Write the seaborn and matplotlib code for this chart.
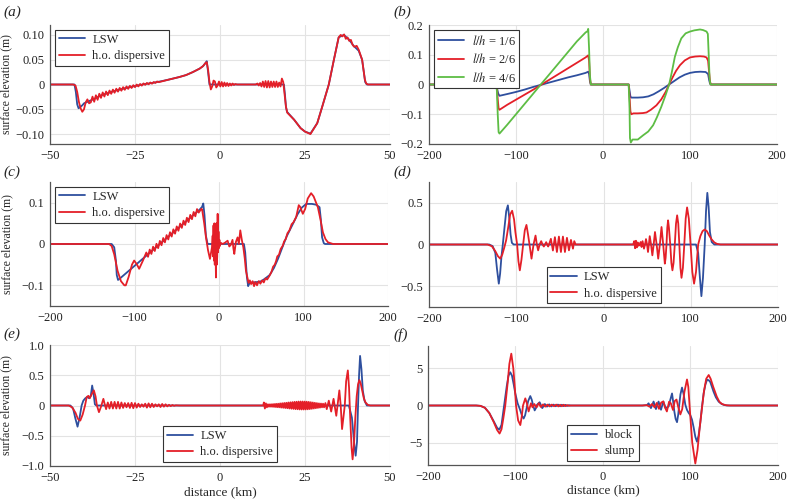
import numpy as np
import pandas as pd
import matplotlib
matplotlib.use('Agg')
import matplotlib.pyplot as plt
import seaborn as sns

# colours
BLUE = '#2e4f9e'
RED = '#e41f28'
GREEN = '#5dbd44'

# ---------------- panel (a) ----------------
a_lsw = [(-50, 0), (-42.8, 0), (-42.4, -0.015), (-42.0, -0.04), (-41.6, -0.048), (-40.5, -0.042),
         (-40, -0.038), (-37, -0.029), (-35, -0.022), (-32, -0.015), (-30, -0.011), (-27, -0.006),
         (-25, -0.003), (-22, 0.001), (-20, 0.003), (-17, 0.007), (-15, 0.010), (-12, 0.015),
         (-10, 0.019), (-8, 0.025), (-6, 0.032), (-5, 0.037), (-4.3, 0.043), (-3.9, 0.047),
         (-3.5, 0.025), (-3.1, 0), (18.8, 0), (19.1, -0.02), (19.4, -0.045), (19.7, -0.055),
         (21.8, -0.071), (23.7, -0.088), (25, -0.095), (26.6, -0.099), (28.6, -0.078),
         (30.1, -0.044), (32, 0), (33.5, 0.05), (34.9, 0.095), (36.4, 0.1), (37.9, 0.091),
         (39.3, 0.078), (40.8, 0.068), (41.8, 0.05), (42.2, 0.03), (42.7, 0.005), (43.2, 0), (50, 0)]

a_hod = [(-50, 0), (-43.2, 0), (-42.5, -0.002), (-42, -0.015), (-41.5, -0.035), (-41, -0.048),
         (-40.5, -0.055), (-40, -0.05), (-39.5, -0.036), (-39, -0.03), (-38.5, -0.038), (-38, -0.036),
         (-37.5, -0.0245), (-37, -0.0348), (-36.5, -0.0217), (-36, -0.0309), (-35.5, -0.0186),
         (-35, -0.027), (-34.5, -0.016), (-34, -0.0243), (-33.5, -0.0141), (-33, -0.0215),
         (-32.5, -0.0122), (-32, -0.0188), (-31.5, -0.0103), (-31, -0.0166), (-30.5, -0.0085),
         (-30, -0.0144), (-29.5, -0.0069), (-29, -0.0125), (-28.5, -0.0054), (-28, -0.0107),
         (-27.5, -0.0039), (-27, -0.0088), (-26.5, -0.0026), (-26, -0.0071), (-25.5, -0.0013),
         (-25, -0.0054), (-24.5, 0.0), (-24, -0.0039), (-23.5, 0.0011), (-23, -0.0023),
         (-22.5, 0.0022), (-22, -0.0008), (-21.5, 0.0032), (-21, 0.0004), (-20.5, 0.004),
         (-20, 0.0016), (-19.5, 0.005), (-19, 0.0031), (-18.5, 0.0061), (-18, 0.0047),
         (-15, 0.010), (-12, 0.015), (-10, 0.019), (-8, 0.025), (-6, 0.032), (-5, 0.037),
         (-4.3, 0.043), (-3.9, 0.045), (-3.5, 0.03), (-3.1, 0.005), (-2.7, -0.01), (-2.3, -0.004),
         (-1.9, 0.008), (-1.5, 0.006), (-1.1, -0.006), (-0.7, -0.002), (-0.3, 0.006), (0.1, -0.004),
         (0.5, 0.005), (0.9, -0.004), (1.3, 0.004), (1.7, -0.003), (2.1, 0.003), (2.5, -0.003),
         (2.9, 0.002), (3.3, -0.002), (3.7, 0.002), (4.1, -0.001), (4.5, 0.001), (5, 0), (10.5, 0),
         (11, 0.002), (11.4, -0.002), (11.8, 0.003), (12.2, -0.004), (12.6, 0.006), (13, -0.005),
         (13.4, 0.007), (13.8, -0.006), (14.2, 0.007), (14.6, -0.006), (15, 0.006), (15.4, -0.005),
         (15.8, 0.006), (16.2, -0.005), (16.6, 0.006), (17, -0.005), (17.4, 0.004), (17.8, -0.004),
         (18.2, 0.012), (18.6, 0.005), (19, -0.02), (19.4, -0.045), (19.8, -0.057), (21.8, -0.071),
         (23.7, -0.088), (25, -0.095), (26.6, -0.1), (28.6, -0.078), (30.1, -0.044), (32, 0),
         (33.5, 0.05), (34.9, 0.095), (35.5, 0.1), (36, 0.097), (36.5, 0.101), (37, 0.092),
         (37.5, 0.095), (38, 0.088), (38.5, 0.09), (39, 0.08), (39.5, 0.076), (40.2, 0.078),
         (40.8, 0.07), (41.3, 0.06), (41.8, 0.05), (42.2, 0.03), (42.6, 0.01), (43, 0.002),
         (43.5, 0), (50, 0)]

# ---------------- panel (b) ----------------
b_16 = [(-200, 0), (-123, 0), (-122, -0.01), (-120.5, -0.03), (-119, -0.038), (-110, -0.032),
        (-100, -0.025), (-90, -0.017), (-80, -0.008), (-70, 0.0), (-60, 0.008), (-50, 0.016),
        (-40, 0.024), (-30, 0.031), (-20, 0.039), (-17, 0.043), (-16, 0.035), (-15, 0.01), (-14, 0),
        (29.5, 0), (30.5, -0.02), (31.5, -0.04), (32.5, -0.044), (40, -0.044), (46, -0.043),
        (52, -0.04), (58, -0.033), (64, -0.023), (70, -0.012), (76, 0.0), (82, 0.012), (88, 0.024),
        (94, 0.033), (100, 0.039), (106, 0.042), (112, 0.043), (118, 0.042), (120.8, 0.035),
        (122, 0.015), (123, 0.003), (124, 0), (200, 0)]
b_26 = [(-200, 0), (-123, 0), (-122, -0.01), (-121, -0.05), (-120, -0.08), (-119, -0.085),
        (-110, -0.068), (-100, -0.051), (-90, -0.034), (-80, -0.017), (-70.6, 0.0), (-60, 0.019),
        (-50, 0.037), (-40, 0.055), (-30, 0.073), (-20, 0.091), (-17, 0.098), (-16, 0.08),
        (-15, 0.02), (-14, 0), (29.5, 0), (30.5, -0.04), (31.5, -0.09), (32.5, -0.1), (35, -0.097),
        (40, -0.097), (46, -0.096), (50, -0.094), (55, -0.085), (61.4, -0.07), (67, -0.05),
        (72, -0.025), (76, 0.0), (80, 0.024), (84, 0.046), (88.5, 0.065), (94, 0.081), (100, 0.091),
        (106, 0.094), (111.5, 0.095), (116, 0.094), (119, 0.091), (120.8, 0.08), (122, 0.04),
        (123, 0.01), (124, 0), (200, 0)]
b_46 = [(-200, 0), (-123, 0), (-122, -0.02), (-121, -0.1), (-120, -0.16), (-119, -0.165),
        (-110, -0.135), (-100, -0.1), (-90, -0.065), (-80, -0.03), (-71.5, 0.0), (-60, 0.04),
        (-50, 0.075), (-40, 0.11), (-30, 0.145), (-20, 0.175), (-17.5, 0.18), (-17, 0.187),
        (-16, 0.12), (-15, 0.03), (-14, 0), (29.5, 0), (30.5, -0.08), (31, -0.18), (32, -0.195),
        (34, -0.185), (40, -0.185), (46, -0.171), (52, -0.158), (57.6, -0.137), (62, -0.11),
        (67, -0.075), (72, -0.035), (76, 0.0), (79, 0.04), (82.6, 0.093), (86, 0.125), (90, 0.155),
        (95, 0.172), (100, 0.178), (105, 0.182), (111.5, 0.185), (115, 0.183), (119, 0.178),
        (120.5, 0.17), (121.5, 0.1), (122.5, 0.02), (123.5, 0), (200, 0)]

# ---------------- panel (c) ----------------
c_lsw = [(-200, 0), (-127, 0), (-124, -0.008), (-122, -0.04), (-121, -0.075), (-119.5, -0.087),
         (-117, -0.083), (-23, 0.083), (-20, 0.09), (-18.6, 0.098), (-17.2, 0.07), (-15.5, 0.02),
         (-13.5, 0), (29.5, 0), (31, -0.02), (33, -0.08), (34.5, -0.102), (36, -0.095), (40, -0.093),
         (45, -0.092), (50, -0.09), (55, -0.083), (60, -0.075), (65, -0.058), (70, -0.035),
         (75, -0.008), (80, 0.018), (87.3, 0.048), (93, 0.072), (98, 0.088), (103.2, 0.097),
         (110, 0.097), (115, 0.095), (119, 0.089), (120.5, 0.06), (122, 0.016), (124, 0.002),
         (125.5, 0), (200, 0)]
c_hod = [(-200, 0), (-130, 0), (-127, -0.005), (-124, -0.025), (-120, -0.065), (-116, -0.09),
         (-112, -0.1), (-110.3, -0.1), (-107, -0.08), (-103, -0.05), (-100.4, -0.04), (-97, -0.05),
         (-94.5, -0.06), (-90, -0.04), (-86, -0.0205), (-84, -0.031), (-82, -0.0135), (-80, -0.024),
         (-78, -0.0065), (-76, -0.017), (-74, 0.0005), (-72, -0.010), (-70, 0.0075), (-68, -0.003),
         (-66, 0.0145), (-64, 0.004), (-62, 0.0215), (-60, 0.011), (-58, 0.0285), (-56, 0.018),
         (-54, 0.0355), (-52, 0.025), (-50, 0.0425), (-48, 0.032), (-46, 0.0495), (-44, 0.039),
         (-42, 0.0565), (-40, 0.046), (-38, 0.0635), (-36, 0.053), (-34, 0.0705), (-32, 0.060),
         (-30, 0.0775), (-28, 0.067), (-26, 0.0845), (-24, 0.076), (-21, 0.085), (-20, 0.084),
         (-17.5, 0.05), (-15.4, 0.016), (-13, -0.015), (-10.7, -0.036), (-8.3, -0.008),
         (-7.5, 0.02), (-7, -0.03), (-6.5, 0.045), (-6, -0.04), (-5.5, 0.05), (-5, -0.05),
         (-4.5, 0.04), (-3.6, -0.081), (-3.1, 0.05), (-2.6, -0.05), (-2.1, -0.03), (-1.6, 0.073),
         (-1.1, -0.02), (-0.6, 0.03), (-0.1, -0.01), (0.5, 0.01), (1, -0.005), (2, 0.003), (4.3, 0),
         (7, 0.003), (10.2, 0.008), (12.2, -0.006), (14, -0.002), (16, 0.01), (17, -0.01),
         (18.1, -0.024), (20, 0.005), (22, 0.016), (23.5, 0.0), (25.2, 0.033), (27, 0.01),
         (28.8, -0.008), (30.5, -0.035), (31.9, -0.065), (35, -0.094), (36.5, -0.088), (38, -0.097),
         (39.8, -0.09), (41.5, -0.102), (43, -0.092), (45, -0.1), (47, -0.09), (49, -0.096),
         (51, -0.088), (53, -0.093), (55, -0.083), (57, -0.086), (59.7, -0.077), (62, -0.068),
         (64, -0.055), (66, -0.05), (67.6, -0.041), (69, -0.03), (71, -0.026), (73, -0.012),
         (75.5, -0.004), (77, 0.006), (79, 0.012), (81, 0.026), (83.4, 0.033), (86, 0.048),
         (88, 0.052), (91.3, 0.065), (94.4, 0.094), (96, 0.09), (99.2, 0.073), (102, 0.085),
         (105, 0.11), (109, 0.123), (112, 0.115), (117, 0.089), (120, 0.06), (123, 0.028),
         (126, 0.012), (129, 0.004), (135, 0), (200, 0)]

# ---------------- panel (d) ----------------
d_lsw = [(-200, 0), (-131, 0), (-127, -0.02), (-124, -0.1), (-122, -0.3), (-120, -0.47),
         (-118.5, -0.35), (-117, -0.15), (-115.4, 0), (-113.5, 0.2), (-111.5, 0.4), (-109.6, 0.47),
         (-108, 0.32), (-106.5, 0.12), (-105, 0.02), (-103, 0), (106, 0), (108.5, -0.1),
         (110.5, -0.4), (112.2, -0.62), (114, -0.4), (116, 0), (117.5, 0.4), (119, 0.62),
         (120.5, 0.45), (122, 0.15), (124, 0.03), (127, 0), (200, 0)]
d_hod = [(-200, 0), (-133, 0), (-128, -0.02), (-124, -0.08), (-121, -0.14), (-118.3, -0.17),
         (-116, -0.12), (-113.8, -0.04), (-111.6, 0.05), (-109, 0.22), (-107, 0.36), (-104.7, 0.405),
         (-102.5, 0.3), (-101, 0.15), (-99, 0), (-97.5, -0.2), (-95.9, -0.31), (-94, -0.18),
         (-92.1, 0), (-90.2, 0.17), (-88.3, 0.235), (-86.5, 0.12), (-84.8, 0), (-82.5, -0.17),
         (-80.2, 0), (-77.9, 0.107), (-76.4, 0), (-74.9, -0.07), (-73.2, 0), (-71.4, 0.04),
         (-69.9, 0), (-68.4, -0.024), (-67, 0), (-65.7, 0.028), (-64.5, 0), (-63.4, -0.024),
         (-61.8, 0.02), (-60.3, 0.068), (-58, -0.072), (-55.7, 0.088), (-53.4, -0.09), (-51.1, 0.095),
         (-48.8, -0.09), (-46.5, 0.095), (-44.2, -0.09), (-41.9, 0.08), (-39.6, -0.07), (-37.3, 0.055),
         (-35, -0.05), (-33.5, 0.04), (-32, 0), (34, 0), (35.2, 0.04), (36.2, -0.045), (37.2, 0.045),
         (38.2, -0.035), (39.2, 0.025), (40.3, -0.015), (41.5, 0.0), (42.6, 0.03), (43.6, -0.03),
         (44.8, 0.04), (46.4, -0.05), (47.6, 0.0), (48.7, 0.065), (49.9, 0.0), (51, -0.09), (52, 0.0),
         (53, 0.1), (54.5, 0.0), (56, -0.13), (57.5, 0.0), (59, 0.15), (60.9, 0.0), (62.7, -0.17),
         (64.6, 0.0), (66.5, 0.21), (68.4, 0.0), (70.3, -0.23), (71.2, -0.16), (72.2, 0.0),
         (73.1, 0.2), (74, 0.29), (75, 0.2), (76.5, 0.0), (77.8, -0.22), (79, -0.31), (80.3, -0.22),
         (81.7, 0.0), (83.1, 0.25), (84.4, 0.35), (85.7, 0.25), (86.9, 0.0), (88.2, -0.28),
         (89.4, -0.40), (91, -0.28), (92.6, 0.0), (94.2, 0.31), (95.8, 0.445), (97.8, 0.31),
         (99.8, 0.0), (101.8, -0.33), (103.8, -0.47), (106, -0.33), (108.5, 0.0), (111, 0.1),
         (113.5, 0.16), (116, 0.18), (118.5, 0.16), (121, 0.11), (124, 0.06), (127, 0.025),
         (130, 0.008), (134, 0), (200, 0)]

# ---------------- panel (e) ----------------
e_lsw = [(-50, 0), (-44, 0), (-43.2, -0.05), (-42.6, -0.2), (-41.9, -0.35), (-41.3, -0.2),
         (-40.7, 0.0), (-40.2, 0.08), (-39.6, 0.12), (-39, 0.14), (-38.5, 0.12), (-38, 0.16),
         (-37.6, 0.33), (-37.2, 0.2), (-36.8, 0.02), (-36.4, 0), (37.9, 0), (38.8, -0.2),
         (39.5, -0.65), (39.9, -0.83), (40.3, -0.6), (40.6, 0.0), (40.9, 0.5), (41.2, 0.82),
         (41.6, 0.6), (42.0, 0.25), (42.5, 0.08), (43.2, 0), (50, 0)]
e_hod = [(-50, 0), (-44.5, 0), (-43.5, -0.03), (-42.5, -0.12), (-41.8, -0.22), (-41.1, -0.25),
         (-40.4, -0.15), (-39.7, 0.0), (-39.2, 0.14), (-38.7, 0.16), (-38.3, 0.12), (-37.8, 0.18),
         (-37.1, 0.25), (-36.6, 0.15), (-36.2, 0.0), (-35.6, -0.11), (-35.0, -0.02), (-34.3, 0.11),
         (-33.9, 0.02), (-33.5, -0.06), (-33.0, 0.05), (-32.5, -0.05), (-32.0, 0.06), (-31.5, -0.05),
         (-31.0, 0.06), (-30.5, -0.05), (-30.0, 0.06), (-29.5, -0.05), (-29.0, 0.05), (-28.5, -0.04),
         (-28.0, 0.04), (-27.5, -0.03), (-27.0, 0.04), (-26.5, -0.04), (-26.0, 0.045), (-25.5, -0.045),
         (-25.0, 0.04), (-24.5, -0.035), (-24.0, 0.03), (-23.5, -0.025), (-23.0, 0.02), (-22.5, -0.02),
         (-22.0, 0.03), (-21.5, -0.035), (-21.0, 0.035), (-20.5, -0.03), (-20.0, 0.03), (-19.5, -0.025),
         (-19.0, 0.02), (-18.5, -0.015), (-18.0, 0.02), (-17.5, -0.025), (-17.0, 0.025), (-16.5, -0.02),
         (-16.0, 0.02), (-15.5, -0.015), (-15.0, 0.012), (-14.5, -0.01), (-14.0, 0.008), (-13.5, -0.005),
         (-13.0, 0.003), (-12.0, 0), (12.7, 0), (12.9, 0.05), (13.2, -0.05), (13.5, 0.035),
         (13.8, -0.03), (14.1, 0.02), (14.4, -0.02), (14.7, 0.02), (15.0, -0.02), (15.3, 0.022),
         (15.6, -0.022), (15.9, 0.025), (16.2, -0.025), (16.5, 0.028), (16.8, -0.028), (17.1, 0.03),
         (17.4, -0.03), (17.7, 0.035), (18.0, -0.035), (18.3, 0.038), (18.6, -0.038), (18.9, 0.042),
         (19.2, -0.042), (19.5, 0.045), (19.8, -0.045), (20.1, 0.05), (20.4, -0.05), (20.7, 0.053),
         (21.0, -0.053), (21.3, 0.056), (21.6, -0.056), (21.9, 0.06), (22.2, -0.06), (22.5, 0.062),
         (22.8, -0.062), (23.1, 0.065), (23.4, -0.065), (23.7, 0.066), (24.0, -0.066), (24.3, 0.066),
         (24.6, -0.066), (24.9, 0.065), (25.2, -0.065), (25.5, 0.063), (25.8, -0.063), (26.1, 0.06),
         (26.4, -0.06), (26.7, 0.055), (27.0, -0.055), (27.3, 0.05), (27.6, -0.05), (27.9, 0.045),
         (28.2, -0.045), (28.5, 0.04), (28.8, -0.04), (29.1, 0.035), (29.4, -0.035), (29.7, 0.032),
         (30.0, -0.03), (30.3, 0.03), (30.6, -0.03), (31.0, 0.04), (31.4, -0.06), (32.0, 0.08),
         (32.7, -0.1), (33.4, 0.11), (34.2, -0.17), (35.1, 0.25), (35.5, 0.0), (35.9, -0.39),
         (36.7, 0.0), (37.1, 0.4), (37.6, 0.58), (37.95, 0.3), (38.3, -0.2), (38.7, -0.7),
         (39.0, -0.89), (39.4, -0.65), (39.8, -0.2), (40.2, 0.15), (40.6, 0.35), (41.0, 0.42),
         (41.4, 0.36), (41.8, 0.25), (42.3, 0.12), (42.8, 0.05), (43.5, 0.01), (44.2, 0), (50, 0)]

# ---------------- panel (f) ----------------
f_block = [(-200, 0), (-145, 0), (-140, -0.05), (-135, -0.3), (-130, -1.0), (-125, -2.1),
           (-121, -3.0), (-118.5, -3.25), (-116, -2.6), (-113, 0), (-110, 2.6), (-108, 4.0),
           (-106, 4.47), (-104, 4.0), (-102, 2.8), (-100.2, 1.6), (-97.6, 0.3), (-95, -0.5),
           (-92.5, -1.4), (-90.7, -1.75), (-89, -1.3), (-87.7, -0.57), (-85.5, 0.6), (-83.1, 1.27),
           (-81.5, 0.8), (-80, 0.1), (-78.1, -0.66), (-76, -0.2), (-75.4, 0.1), (-72.4, 0.44),
           (-69.4, -0.35), (-66.5, 0.2), (-64, -0.15), (-61.5, 0.15), (-59, -0.12), (-56.5, 0.12),
           (-54, -0.1), (-51.5, 0.12), (-49, -0.1), (-47, 0.1), (-45, -0.08), (-43, 0.08),
           (-41, -0.06), (-39, 0.04), (-37, 0), (45, 0), (50.3, 0.05), (52.1, 0.3), (54.8, -0.35),
           (57.8, 0.53), (60.5, -0.48), (63.5, 0.53), (66.3, -0.57), (68.9, 0.53), (71.6, -0.35),
           (75, -0.13), (77, 0.8), (78.9, 1.62), (80.2, 0.5), (81.5, -0.79), (83, -1.8),
           (84.6, -2.24), (86, -1.2), (86.9, -0.13), (88.5, 1.5), (90.3, 2.41), (92, 1.6),
           (94.1, 0.1), (96, -0.6), (97.9, -1.0), (99.8, -1.3), (101.7, -1.9), (103.5, -2.9),
           (105.5, -4.2), (107.4, -4.87), (109.3, -4.0), (111.2, -2.3), (113, -0.3), (115, 1.62),
           (117, 2.8), (118.9, 3.46), (120.8, 3.4), (122.6, 3.16), (124.5, 2.5), (126.4, 1.84),
           (129, 1.1), (132.1, 0.53), (135, 0.25), (137.8, 0.09), (141.7, 0), (200, 0)]
f_slump = [(-200, 0), (-145, 0), (-140, -0.05), (-135, -0.3), (-130, -1.0), (-125, -2.2),
           (-121, -3.3), (-118.2, -3.77), (-116, -3.2), (-114, -1.8), (-111.7, 0), (-109, 3.0),
           (-107, 5.6), (-104.8, 6.97), (-102.5, 5.0), (-101, 2.8), (-99.4, 0), (-97, -2.0),
           (-94.5, -2.63), (-93, -1.6), (-91.4, 0), (-88.8, 0.96), (-87, 0.3), (-85, -0.8),
           (-83.5, -0.2), (-82.3, 0.3), (-80.5, -0.25), (-78.5, 0.2), (-76, -0.25), (-73.5, 0.3),
           (-71, -0.2), (-68.5, 0.15), (-66, -0.15), (-63.5, 0.12), (-61, -0.12), (-58.5, 0.12),
           (-56, -0.1), (-53.5, 0.12), (-51, -0.12), (-49, 0.1), (-47, -0.1), (-45, 0.1),
           (-43, -0.08), (-41, 0.06), (-39, -0.04), (-37, 0), (45, 0), (50, 0.05), (53, -0.15),
           (56, 0.2), (59, -0.25), (61.5, 0.35), (64, -0.45), (66.5, 0.4), (69, 0.55), (71, -0.3),
           (73, -0.8), (75.5, 0.5), (77.5, 0.3), (80, -0.6), (82, 0.6), (84, 0.8), (86, -0.2),
           (88.4, -1.2), (90.5, -0.5), (93, 1.8), (96, 3.5), (97.5, 2.5), (99.8, -1.5), (102, -5.0),
           (105.5, -7.8), (108, -6.0), (110.5, -3.0), (113.1, -0.36), (115.5, 2.0), (118, 3.6),
           (120.8, 4.1), (123, 3.6), (126, 2.5), (130, 1.2), (133, 0.5), (136, 0.2), (140, 0.05),
           (145, 0), (200, 0)]

# ticks
ticks_km50 = [-50, -25, 0, 25, 50]
ticks_km200 = [-200, -100, 0, 100, 200]
labels_km50 = ['\u221250', '\u221225', '0', '25', '50']
labels_km200 = ['\u2212200', '\u2212100', '0', '100', '200']

sns.set_theme(style='whitegrid')
plt.rcParams['font.family'] = ['Liberation Serif', 'DejaVu Serif']
plt.rcParams['mathtext.fontset'] = 'stix'
plt.rcParams['axes.unicode_minus'] = True

fig = plt.figure(figsize=(7.88, 5.0), dpi=100)

W, H = 788.0, 500.0
def make_ax(l, r, t, b):
    return fig.add_axes([l / W, 1 - b / H, (r - l) / W, (b - t) / H])

ax_a = make_ax(50, 390, 25, 144)
ax_b = make_ax(429, 777, 25, 144)
ax_c = make_ax(50, 388, 182, 306)
ax_d = make_ax(429, 778, 182, 307)
ax_e = make_ax(50, 390, 345, 466)
ax_f = make_ax(428, 778, 346, 465)


def draw(ax, pts, color, label):
    df = pd.DataFrame(pts, columns=['x', 'y'])
    sns.lineplot(data=df, x='x', y='y', ax=ax, color=color, label=label,
                 lw=1.3, estimator=None, sort=False)


def style(ax, xt, xl, yt, yl, ylim):
    ax.set_xlim(xt[0], xt[-1])
    ax.set_ylim(*ylim)
    ax.set_xticks(xt)
    ax.set_xticklabels(xl)
    ax.set_yticks(yt)
    ax.set_yticklabels(yl)
    ax.set_xlabel('')
    ax.set_ylabel('')
    ax.set_facecolor('white')
    ax.grid(True, color='#e3e3e3', lw=0.8)
    for s in ['top', 'right']:
        ax.spines[s].set_visible(False)
    for s in ['left', 'bottom']:
        ax.spines[s].set_visible(True)
        ax.spines[s].set_color('#555555')
        ax.spines[s].set_linewidth(0.9)
    ax.tick_params(length=0, pad=4, labelsize=9, colors='#222222')


def legend(ax, loc, **kw):
    lg = ax.legend(loc=loc, frameon=True, fancybox=False, edgecolor='#333333',
                   framealpha=1, fontsize=9, handlelength=2.1, borderpad=0.3,
                   labelspacing=0.35, handletextpad=0.6, borderaxespad=0.4, **kw)
    lg.get_frame().set_linewidth(0.8)


# (a)
draw(ax_a, a_lsw, BLUE, 'LSW')
draw(ax_a, a_hod, RED, 'h.o. dispersive')
style(ax_a, ticks_km50, labels_km50, [-0.1, -0.05, 0, 0.05, 0.1],
      ['\u22120.10', '\u22120.05', '0', '0.05', '0.10'], (-0.12, 0.12))
legend(ax_a, 'upper left')

# (b)
draw(ax_b, b_16, BLUE, r'$l/h$ = 1/6')
draw(ax_b, b_26, RED, r'$l/h$ = 2/6')
draw(ax_b, b_46, GREEN, r'$l/h$ = 4/6')
style(ax_b, ticks_km200, labels_km200, [-0.2, -0.1, 0, 0.1, 0.2],
      ['\u22120.2', '\u22120.1', '0', '0.1', '0.2'], (-0.2, 0.2))
legend(ax_b, 'upper left')

# (c)
draw(ax_c, c_lsw, BLUE, 'LSW')
draw(ax_c, c_hod, RED, 'h.o. dispersive')
style(ax_c, ticks_km200, labels_km200, [-0.1, 0, 0.1],
      ['\u22120.1', '0', '0.1'], (-0.15, 0.15))
legend(ax_c, 'upper left')

# (d)
draw(ax_d, d_lsw, BLUE, 'LSW')
draw(ax_d, d_hod, RED, 'h.o. dispersive')
style(ax_d, ticks_km200, labels_km200, [-0.5, 0, 0.5],
      ['\u22120.5', '0', '0.5'], (-0.75, 0.75))
legend(ax_d, 'lower center', bbox_to_anchor=(0.5, -0.01))

# (e)
draw(ax_e, e_lsw, BLUE, 'LSW')
draw(ax_e, e_hod, RED, 'h.o. dispersive')
style(ax_e, ticks_km50, labels_km50, [-1, -0.5, 0, 0.5, 1],
      ['\u22121.0', '\u22120.5', '0', '0.5', '1.0'], (-1, 1))
legend(ax_e, 'lower center', bbox_to_anchor=(0.5, -0.01))

# (f)
draw(ax_f, f_block, BLUE, 'block')
draw(ax_f, f_slump, RED, 'slump')
style(ax_f, ticks_km200, labels_km200, [-5, 0, 5],
      ['\u22125', '0', '5'], (-8, 8))
legend(ax_f, 'lower center', bbox_to_anchor=(0.5, -0.01))

for ax in [ax_a, ax_c, ax_e]:
    ax.set_ylabel('surface elevation (m)', fontsize=8.5)
    ax.yaxis.set_label_coords(-0.11, 0.5)
for ax in [ax_e, ax_f]:
    ax.set_xlabel('distance (km)', fontsize=9.5)
    ax.xaxis.set_label_coords(0.5, -0.165)

panel_tags = ['(a)', '(b)', '(c)', '(d)', '(e)', '(f)']
tag_pos = [(3, 12), (393, 12), (3, 172), (393, 172), (3, 334), (393, 335)]
for tag, (px, py) in zip(panel_tags, tag_pos):
    fig.text(px / W, 1 - py / H, tag, fontsize=11, fontstyle='italic',
             ha='left', va='center')

fig.savefig('out.png', dpi=100)
